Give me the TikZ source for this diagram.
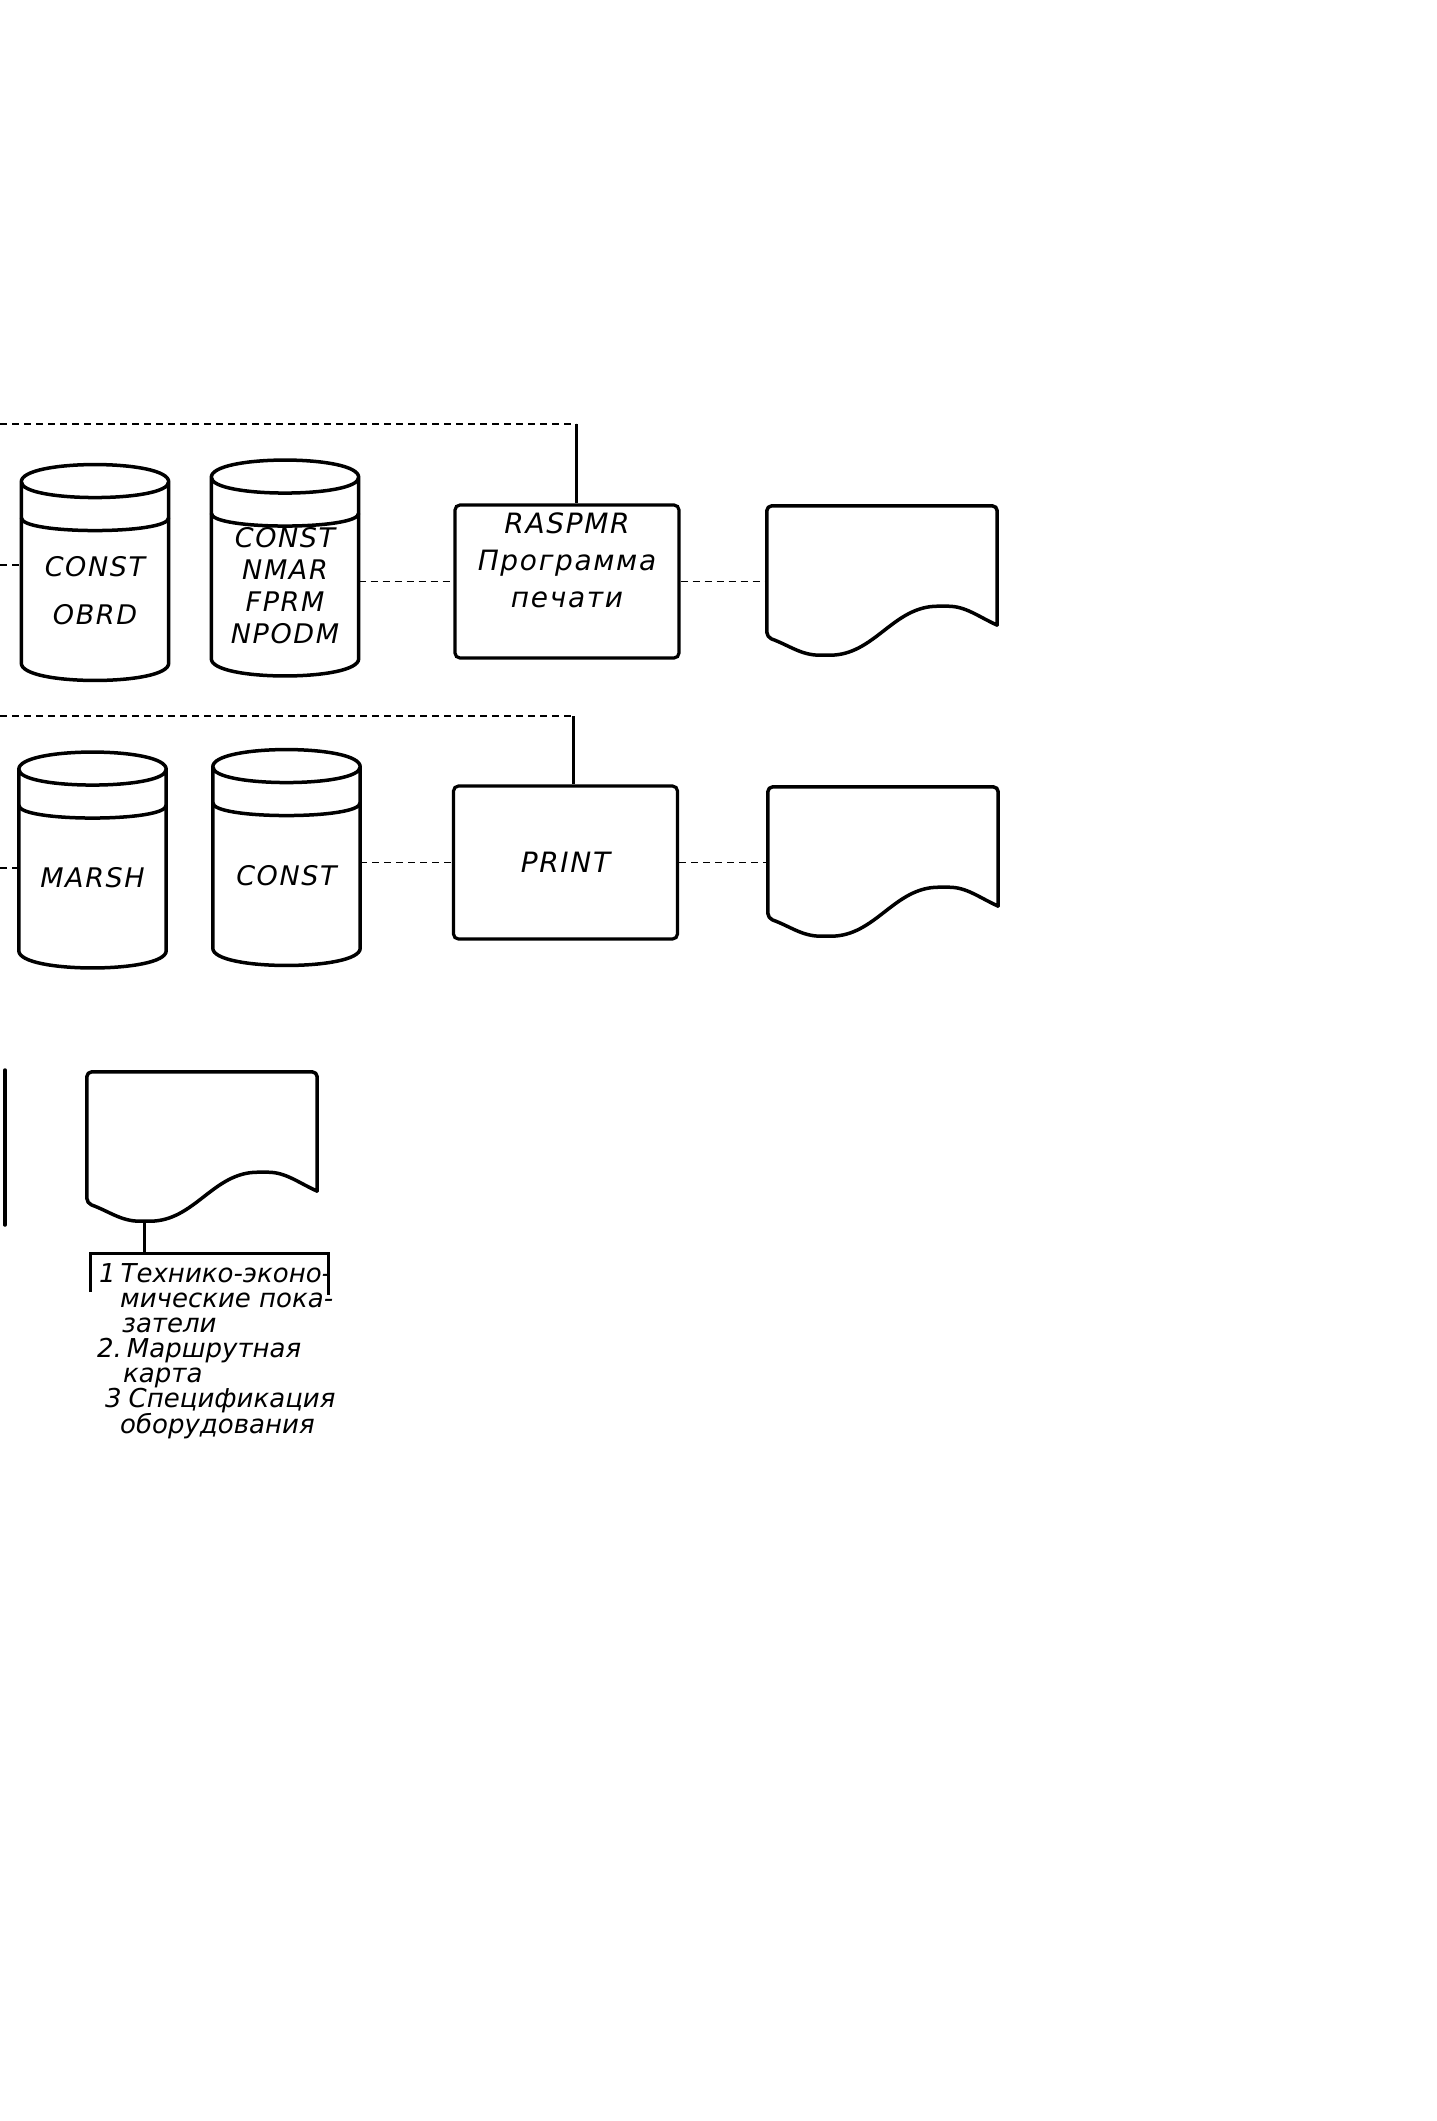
\documentclass[tikz,border=0pt]{standalone}
\usepackage{fontspec}
\setmainfont{DejaVu Sans}
\newfontfamily\handfont{DejaVu Sans}[ItalicFont=* Oblique, LetterSpace=6]
\newfontfamily\notefont{DejaVu Sans}[ItalicFont=* Oblique]
\tikzset{
	outline/.style={line width=3.5pt, line join=round, line cap=round},
	wire/.style={line width=3pt},
	flow/.style={line width=1.6pt, dash pattern=on 7pt off 5pt},
	cyl/.style={minimum width=147pt, minimum height=145pt, inner sep=0pt, align=center, font=\handfont\itshape\fontsize{27pt}{32pt}\selectfont},
	procbox/.style={draw, line width=3.2pt, rounded corners=5pt, minimum width=224pt, minimum height=153pt, inner sep=0pt, font=\handfont\itshape\fontsize{28pt}{37pt}\selectfont},
	boxtext/.style={align=center, inner sep=0pt, font=\handfont\itshape\fontsize{28pt}{37pt}\selectfont},
	sheet/.style={minimum width=230pt, minimum height=119pt, inner sep=0pt},
	notelist/.style={align=left, inner xsep=0pt, inner ysep=10pt, font=\notefont\itshape\fontsize{26pt}{25pt}\selectfont}
}
\begin{document}
\begin{tikzpicture}[x=1pt,y=1pt]
	\useasboundingbox (0,0) rectangle (1436,-2121);
	\node[cyl] (constobrd) at (95,-590.5) {CONST\\[16pt]OBRD};
	\node[cyl] (constnmar) at (285,-586) {CONST\\NMAR\\FPRM\\NPODM};
	\node[cyl] (marsh) at (92.5,-878) {MARSH};
	\node[cyl] (constlist) at (286.5,-875.5) {CONST};
	\foreach \c in {constobrd,constnmar,marsh,constlist} {
		\draw[outline] ([yshift=36pt]\c.north west) -- (\c.south west)
			.. controls +(0,-23) and +(0,-23) .. (\c.south east) -- ([yshift=36pt]\c.north east)
			.. controls +(0,23) and +(0,23) .. ([yshift=36pt]\c.north west)
			.. controls +(0,-21) and +(0,-21) .. ([yshift=36pt]\c.north east);
		\draw[outline] (\c.north west) .. controls +(0,-17) and +(0,-17) .. (\c.north east);
	}
	\node[procbox] (raspmr) at (567,-581.5) {};
	\node[boxtext] (raspmrtext) at (567,-560) {RASPMR\\Программа\\печати};
	\node[procbox] (print) at (565.5,-862.5) {PRINT};
	\node[sheet] (sheetA) at (882,-565.5) {};
	\node[sheet] (sheetB) at (883,-846.5) {};
	\node[sheet] (sheetC) at (202,-1131.5) {};
	\foreach \d in {sheetA,sheetB,sheetC} {
		\draw[outline, rounded corners=5pt] (\d.south east) -- (\d.north east) -- (\d.north west) -- ([yshift=-12pt]\d.south west)
			to[out=-20,in=180] ([shift={(58pt,-30pt)}]\d.south west) coordinate (\d-low)
			to[out=0,in=180] ([shift={(176pt,19pt)}]\d.south west)
			to[out=0,in=155] (\d.south east);
	}
	\coordinate (inA) at (0,-565);
	\coordinate (inB) at (0,-868);
	\coordinate (feedA) at (0,-424);
	\coordinate (feedB) at (0,-716);
	\coordinate (dropA) at (576,-424);
	\coordinate (dropB) at (573,-716);
	\draw[flow] (inA) -- (inA -| constobrd.west);
	\draw[flow] (inB) -- (inB -| marsh.west);
	\draw[flow] (constnmar.east |- raspmr.west) -- (raspmr.west);
	\draw[flow] (raspmr.east) -- (raspmr.east -| sheetA.west);
	\draw[flow] (constlist.east |- print.west) -- (print.west);
	\draw[flow] (print.east) -- (print.east -| sheetB.west);
	\draw[flow] (feedA) -- (dropA);
	\draw[wire] (dropA) -- (dropA |- raspmr.north);
	\draw[flow] (feedB) -- (dropB);
	\draw[wire] (dropB) -- (dropB |- print.north);
	\draw[outline] (5,-1070) -- (5,-1225);
	\node[notelist, anchor=north west] (notes) at (90,-1253) {\hspace*{9pt}1\hspace{5pt}Технико-эконо-\\
		\hspace*{30pt}мические пока-\\
		\hspace*{32pt}затели\\
		\hspace*{7pt}2.\hspace{5pt}Маршрутная\\
		\hspace*{33pt}карта\\
		\hspace*{15pt}3\hspace{7pt}Спецификация\\
		\hspace*{30pt}оборудования};
	\draw[wire] (sheetC-low) -- (sheetC-low |- notes.north);
	\draw[wire] (notes.north west) ++(0,-39) -- (notes.north west) -- ++(238,0) -- ++(0,-42);
\end{tikzpicture}
\end{document}
